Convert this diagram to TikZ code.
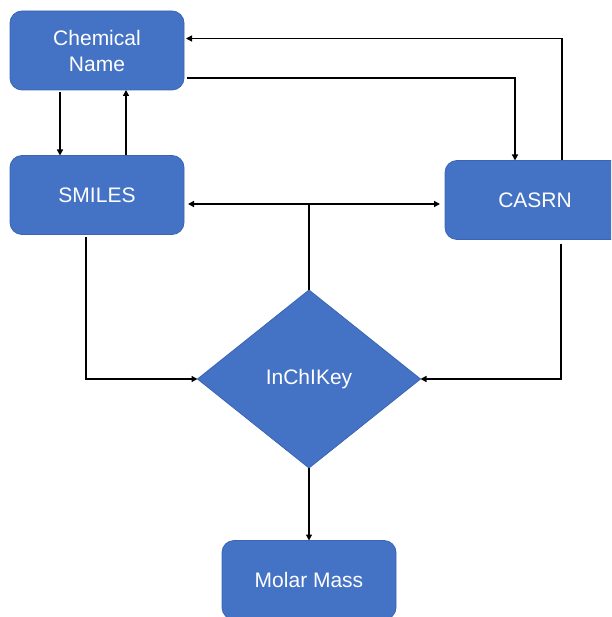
\documentclass[tikz,border=0pt]{standalone}
\usepackage{fontspec}
\setmainfont{Liberation Sans}
\usetikzlibrary{arrows.meta,shapes.geometric,calc}
\definecolor{boxblue}{HTML}{4472C4}
\definecolor{edgeblue}{HTML}{3B65B3}
\tikzset{
  stepbox/.style={draw=edgeblue, line width=0.8pt, fill=boxblue, rounded corners=12pt,
    minimum width=174pt, minimum height=79pt, inner sep=0pt, outer sep=0pt,
    text=white, align=center, font=\fontsize{21}{26}\selectfont},
  decide/.style={diamond, draw=edgeblue, line width=0.8pt, fill=boxblue, aspect=1.253,
    minimum width=223pt, minimum height=178pt, inner sep=0pt, outer sep=0pt,
    text=white, font=\fontsize{21}{26}\selectfont},
  conn/.style={draw=black, line width=1.4pt},
  arr/.style={conn, -{Triangle[length=6pt,width=6pt]}}
}
\begin{document}
\begin{tikzpicture}[x=1pt,y=-1pt]
\useasboundingbox (0,0) rectangle (611,617);
\clip (0,0) rectangle (611,617);
\node[stepbox] (cn) at (97,50.5) {Chemical\\Name};
\node[stepbox] (smiles) at (97,195) {SMILES};
\node[stepbox, minimum width=180pt] (casrn) at (535,200) {CASRN};
\node[decide] (inchi) at (309,379) {InChIKey};
\node[stepbox] (molar) at (309,580) {Molar Mass};
% Chemical Name <-> SMILES
\draw[arr, shorten <=2pt] ([xshift=50pt]cn.south west) -- ([xshift=50pt]smiles.north west);
\draw[arr] ([xshift=116pt]smiles.north west) -- ([xshift=116pt]cn.south west);
% Chemical Name <-> CASRN
\draw[arr, shorten <=3pt] ([yshift=-27.5pt]cn.east) -| ([xshift=70pt]casrn.north west);
\draw[arr, shorten >=2pt] ([xshift=117pt]casrn.north west) |- ([yshift=12pt]cn.east);
% InChIKey to SMILES and CASRN
\path (inchi.north |- smiles.east) ++(0,9) coordinate (j);
\draw[conn] (inchi.north) -- (j);
\draw[arr, shorten >=4pt] (j) -- (j -| smiles.east);
\draw[arr, shorten >=5pt] (j) -- (j -| casrn.west);
% SMILES / CASRN to InChIKey
\draw[arr, shorten <=3pt] ([xshift=76pt]smiles.south west) |- (inchi.west);
\draw[arr, shorten <=4pt] ([xshift=116pt]casrn.south west) |- (inchi.east);
% InChIKey to Molar Mass
\draw[arr] (inchi.south) -- (molar.north);
\end{tikzpicture}
\end{document}
